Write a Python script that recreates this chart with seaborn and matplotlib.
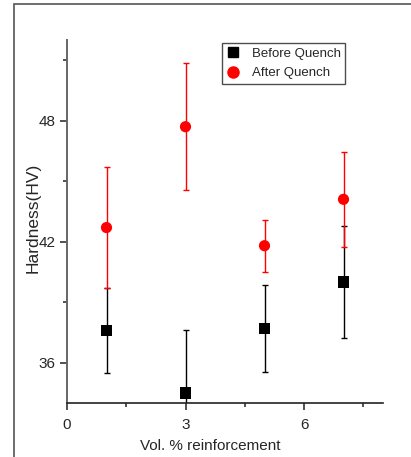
import matplotlib
matplotlib.use("Agg")
import matplotlib.pyplot as plt
from matplotlib.ticker import MultipleLocator
from matplotlib.patches import Rectangle
from matplotlib.lines import Line2D
import seaborn as sns
import pandas as pd

# Hardness measurements vs. reinforcement content
vol_pct = [1, 3, 5, 7]
before_hv = [37.6, 34.5, 37.7, 40.0]
before_err = [2.1, 3.1, 2.15, 2.78]
after_hv = [42.7, 47.7, 41.8, 44.1]
after_err = [3.0, 3.14, 1.28, 2.34]
series_names = ["Before Quench", "After Quench"]

sns.set_theme(style="white")
plt.rcParams["font.family"] = ["Liberation Sans", "DejaVu Sans"]

df = pd.DataFrame({
    "vol": vol_pct * 2,
    "hv": before_hv + after_hv,
    "err": before_err + after_err,
    "series": [series_names[0]] * 4 + [series_names[1]] * 4,
})

fig = plt.figure(figsize=(4.11, 4.57), dpi=100)
ax = fig.add_axes([67 / 411, 1 - 403 / 457, 316 / 411, 363 / 457])

colors = {series_names[0]: "black", series_names[1]: "red"}
markers = {series_names[0]: "s", series_names[1]: "o"}

for name in series_names:
    sub = df[df["series"] == name]
    ax.errorbar(sub["vol"], sub["hv"], yerr=sub["err"], fmt="none",
                ecolor=colors[name], elinewidth=1.0, capsize=2.5,
                capthick=1.0, zorder=2)

sns.scatterplot(data=df, x="vol", y="hv", hue="series", style="series",
                palette=colors, markers=markers, s=65, edgecolor="none",
                ax=ax, zorder=3, legend=False)

ax.set_xlim(0, 8)
ax.set_ylim(34, 52)
ax.xaxis.set_major_locator(MultipleLocator(3))
ax.xaxis.set_minor_locator(MultipleLocator(1.5))
ax.yaxis.set_major_locator(MultipleLocator(6))
ax.yaxis.set_minor_locator(MultipleLocator(3))
ax.tick_params(which="major", direction="out", length=5, width=1.2,
               color="#333333", labelsize=11, pad=3, bottom=True, left=True)
ax.tick_params(axis="x", which="major", pad=6)
ax.tick_params(which="minor", direction="out", length=3, width=1.2,
               color="#333333", bottom=True, left=True)

for side in ["top", "right"]:
    ax.spines[side].set_visible(False)
ax.spines["left"].set_color("#666666")
ax.spines["left"].set_linewidth(1.4)
ax.spines["bottom"].set_color("#222222")
ax.spines["bottom"].set_linewidth(1.2)

ax.set_xlabel("Vol. % reinforcement", fontsize=11)
ax.xaxis.set_label_coords(0.454, -0.100)
ax.set_ylabel("Hardness(HV)", fontsize=12.5)
ax.yaxis.set_label_coords(-0.085, 0.51)

# Legend
handles = [
    Line2D([], [], marker="s", color="black", linestyle="none", markersize=7),
    Line2D([], [], marker="o", color="red", linestyle="none", markersize=8),
]
leg = ax.legend(handles, series_names, loc="upper left",
                bbox_to_anchor=((222 - 67) / 316, 1 - 3 / 363),
                frameon=True, fancybox=False, fontsize=9.5,
                handletextpad=0.9, borderpad=0.35, labelspacing=0.55,
                handlelength=1.0, borderaxespad=0)
leg.get_frame().set_edgecolor("#222222")
leg.get_frame().set_linewidth(1.0)

# Outer frame around the figure
fig.patches.append(Rectangle((14 / 411, -0.1), 1.2, 1 - 4 / 457 + 0.1,
                             transform=fig.transFigure, fill=False,
                             edgecolor="#555555", linewidth=1.2))

fig.savefig("out.png", dpi=100)
